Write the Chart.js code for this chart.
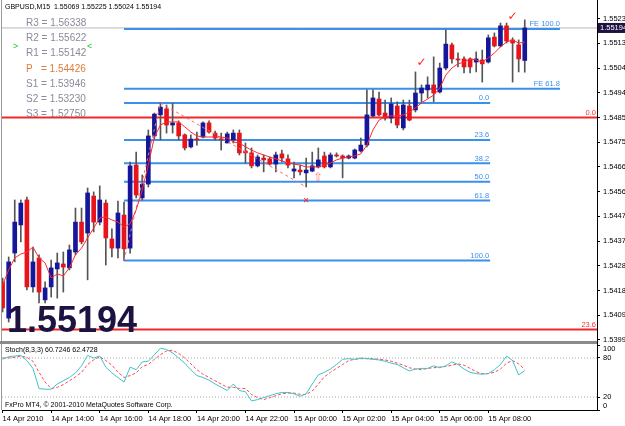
<!DOCTYPE html>
<html><head><meta charset="utf-8">
<script src="https://cdn.jsdelivr.net/npm/chart.js@4.4.0/dist/chart.umd.min.js"></script>
<style>
html,body{margin:0;padding:0;background:#fff;}
#wrap{position:relative;width:625px;height:426px;overflow:hidden;background:#fff;}
#main{position:absolute;left:0;top:0;}
#osc{position:absolute;left:0;top:341px;}
</style></head><body>
<div id="wrap">
<canvas id="main" width="625" height="343"></canvas>
<canvas id="osc" width="625" height="85"></canvas>
</div>
<script>
// ---------- DATA ----------
const opens = [1.54218,1.54079,1.54329,1.54437,1.54533,1.54199,1.54310,1.54149,1.54199,1.54268,
1.54287,1.54272,1.54333,1.54448,1.54406,1.54548,1.54448,1.54521,1.54383,1.54348,
1.54475,1.54348,1.54667,1.54541,1.54594,1.54779,1.54860,1.54883,1.54821,1.54829,
1.54783,1.54737,1.54767,1.54775,1.54829,1.54790,1.54767,1.54752,1.54764,1.54790,
1.54721,1.54714,1.54664,1.54694,1.54691,1.54671,1.54710,1.54691,1.54644,1.54648,
1.54637,1.54644,1.54660,1.54702,1.54660,1.54706,1.54702,1.54694,1.54694,1.54721,
1.54744,1.54856,1.54921,1.54867,1.54848,1.54894,1.54810,1.54894,1.54879,1.54944,
1.54956,1.54975,1.54948,1.55040,1.55129,1.55075,1.55075,1.55075,1.55063,1.55071,
1.55063,1.55159,1.55125,1.55202,1.55148,1.55129,1.55069];
const highs = [1.54233,1.54314,1.54533,1.54533,1.54544,1.54352,1.54322,1.54218,1.54302,1.54329,
1.54333,1.54360,1.54502,1.54502,1.54579,1.54564,1.54587,1.54533,1.54422,1.54529,
1.54525,1.54679,1.54717,1.54629,1.54802,1.54867,1.54906,1.54898,1.54904,1.54837,
1.54787,1.54783,1.54794,1.54833,1.54837,1.54798,1.54790,1.54794,1.54802,1.54802,
1.54752,1.54733,1.54706,1.54706,1.54698,1.54717,1.54725,1.54706,1.54679,1.54667,
1.54694,1.54717,1.54733,1.54717,1.54714,1.54714,1.54706,1.54706,1.54729,1.54771,
1.54956,1.54956,1.54948,1.54917,1.54925,1.54910,1.54917,1.54917,1.55025,1.54975,
1.55006,1.55083,1.55059,1.55186,1.55136,1.55098,1.55083,1.55079,1.55102,1.55109,
1.55167,1.55175,1.55213,1.55213,1.55156,1.55148,1.55225];
const lows = [1.54103,1.54064,1.54295,1.54372,1.54187,1.54179,1.54137,1.54137,1.54160,1.54156,
1.54179,1.54264,1.54322,1.54364,1.54226,1.54410,1.54437,1.54283,1.54314,1.54310,
1.54300,1.54329,1.54541,1.54533,1.54583,1.54767,1.54764,1.54790,1.54790,1.54764,
1.54725,1.54733,1.54744,1.54771,1.54790,1.54764,1.54725,1.54752,1.54752,1.54706,
1.54675,1.54656,1.54660,1.54641,1.54667,1.54641,1.54679,1.54656,1.54618,1.54629,
1.54583,1.54641,1.54656,1.54656,1.54656,1.54698,1.54618,1.54691,1.54691,1.54717,
1.54737,1.54852,1.54856,1.54840,1.54829,1.54810,1.54802,1.54837,1.54871,1.54910,
1.54925,1.54910,1.54944,1.55033,1.55059,1.55044,1.55021,1.55021,1.55025,1.54986,
1.55059,1.55121,1.55121,1.55136,1.54986,1.55025,1.55024];
const closes = [1.54118,1.54295,1.54448,1.54521,1.54199,1.54295,1.54179,1.54195,1.54272,1.54291,
1.54275,1.54341,1.54448,1.54372,1.54560,1.54448,1.54533,1.54387,1.54348,1.54483,
1.54345,1.54664,1.54552,1.54594,1.54779,1.54863,1.54890,1.54821,1.54829,1.54779,
1.54733,1.54767,1.54764,1.54829,1.54794,1.54771,1.54764,1.54787,1.54790,1.54714,
1.54714,1.54664,1.54698,1.54687,1.54671,1.54706,1.54694,1.54667,1.54652,1.54641,
1.54648,1.54664,1.54687,1.54660,1.54706,1.54702,1.54694,1.54702,1.54725,1.54744,
1.54860,1.54925,1.54860,1.54848,1.54902,1.54821,1.54898,1.54840,1.54944,1.54963,
1.54975,1.54944,1.55040,1.55132,1.55075,1.55071,1.55044,1.55044,1.55075,1.55056,
1.55156,1.55125,1.55202,1.55144,1.55136,1.55075,1.55194];
const maValues = [1.54206,1.54264,1.54310,1.54325,1.54333,1.54352,1.54310,1.54291,1.54233,1.54249,
1.54241,1.54272,1.54322,1.54348,1.54387,1.54425,1.54464,1.54468,1.54456,1.54448,
1.54429,1.54441,1.54495,1.54571,1.54667,1.54775,1.54821,1.54833,1.54833,1.54833,
1.54814,1.54794,1.54779,1.54775,1.54775,1.54775,1.54775,1.54771,1.54756,1.54752,
1.54737,1.54725,1.54714,1.54706,1.54698,1.54691,1.54683,1.54675,1.54671,1.54667,
1.54660,1.54660,1.54660,1.54667,1.54675,1.54687,1.54694,1.54698,1.54702,1.54710,
1.54744,1.54802,1.54840,1.54852,1.54856,1.54856,1.54860,1.54871,1.54887,1.54906,
1.54921,1.54936,1.54963,1.55013,1.55040,1.55056,1.55063,1.55075,1.55071,1.55063,
1.55079,1.55098,1.55121,1.55140,1.55148,1.55136,1.55140];
const stochK = [78,82,83,84,76,64,33,32,32,40,45,50,57,68,84,80,83,66,57,50,
43,66,62,74,75,85,95,93,88,80,72,62,53,50,46,40,35,30,40,30,
28,14,16,19,22,25,27,27,25,21,25,40,54,58,63,70,78,79,78,80,
79,78,77,75,72,70,65,60,63,64,64,68,65,68,74,70,63,58,56,55,
56,62,70,83,76,54,60.7246];
const stochD = [80,80,81,83,81,75,58,43,33,35,39,45,51,58,70,77,82,76,69,58,
50,53,57,67,70,78,85,91,92,87,80,71,62,55,50,45,40,35,35,33,
33,24,19,16,19,22,25,26,26,24,24,29,40,51,58,64,70,76,78,79,
79,79,78,77,75,72,69,65,63,62,64,65,66,67,69,71,69,64,59,56,
56,58,63,72,76,71,62.4728];
const timeTickIdx = [0,8,16,24,32,40,48,56,64,72,80];
const timeTickLabels = ['14 Apr 2010','14 Apr 14:00','14 Apr 16:00','14 Apr 18:00','14 Apr 20:00',
  '14 Apr 22:00','15 Apr 00:00','15 Apr 02:00','15 Apr 04:00','15 Apr 06:00','15 Apr 08:00'];
const priceTicks = [1.53995,1.54090,1.54185,1.54280,1.54375,1.54470,1.54565,1.54660,1.54755,1.54850,1.54945,1.55040,1.55135,1.55230];
const stochTicks = [0,20,80,100];
const stochLevels = [80,20];
const fibLabels = ['0.0','23.6','38.2','50.0','61.8','100.0'];
const fibPrices = [1.54906,1.54763,1.54674,1.54603,1.54531,1.54300];
const fibStartIdx = 20, fibEndIdx = 80.3;
const feLabels = ['FE 100.0','FE 61.8'];
const fePrices = [1.55190,1.54960];
const feEndIdx = 91.8;
const bigFibLabels = ['0.0','23.6'];
const bigFibPrices = [1.54850,1.54035];
const zigzagIdx = [20,26,50];
const zigzagPrices = [1.54300,1.54906,1.54583];
const markIdx = [69,84,50,52];
const markPrices = [1.55059,1.55236,1.54529,1.54618];
const markGlyphs = ['\u2713','\u2713','\u2715','\u21E7'];
const markColors = ['#ff2020','#ff2020','#ff2020','#ff8080'];
const pivotNames = ['R3','R2','R1','P','S1','S2','S3'];
const pivotValues = ['1.56338','1.55622','1.55142','1.54426','1.53946','1.53230','1.52750'];
const symbolTitle = 'GBPUSD,M15';
const stochTitle = 'Stoch(8,3,3)';
const copyright = 'FxPro MT4, \u00A9 2001-2010 MetaQuotes Software Corp.';

// ---------- STYLE ----------
const FONT = 'Liberation Sans';
Chart.defaults.font.family = FONT;
const BLUE = '#16169a', RED = '#e8141c', FIBC = '#3a90ea', REDLINE = '#f02828';
const X_MIN = -0.1, X_MAX = 97.9;
const N = closes.length;
const idx = closes.map((_, i) => i);
const lastOpen = opens[N-1], lastHigh = highs[N-1], lastLow = lows[N-1], lastClose = closes[N-1];

function hline(price, x0, x1, color, width, dash, order) {
  return {type:'line', data:[{x:x0,y:price},{x:x1,y:price}], borderColor:color, borderWidth:width,
    borderDash:dash||[], pointRadius:0, order:order};
}

const mainDatasets = [
  {type:'line', data: idx.map(i => ({x:i, y:maValues[i]})), borderColor:'#ff2a2a', borderWidth:1, pointRadius:0, order:0, tension:0},
  {type:'line', data: zigzagIdx.map((v,k) => ({x:v, y:zigzagPrices[k]})), borderColor:'#ff6a6a', borderWidth:1, borderDash:[3,3], pointRadius:0, order:0},
  {type:'bar', data: idx.map(i => ({x:i, y:[opens[i], closes[i]]})),
    backgroundColor: idx.map(i => closes[i] >= opens[i] ? BLUE : RED),
    barThickness:4, grouped:false, minBarLength:1, order:1},
  {type:'bar', data: idx.map(i => ({x:i, y:[lows[i], highs[i]]})), backgroundColor:'#555555',
    barThickness:1, grouped:false, order:2},
  hline(lastClose, X_MIN, X_MAX, '#b8b8b8', 1, [], 5),
];
fibPrices.forEach(p => mainDatasets.push(hline(p, fibStartIdx, fibEndIdx, FIBC, 2, [], 4)));
fePrices.forEach(p => mainDatasets.push(hline(p, fibStartIdx, feEndIdx, FIBC, 2, [], 4)));
bigFibPrices.forEach(p => mainDatasets.push(hline(p, X_MIN, X_MAX, REDLINE, 2, [], 4)));

const mainOverlay = {
  id:'mainOverlay',
  afterDraw(chart) {
    const {ctx, chartArea:a, scales:{x, y}} = chart;
    ctx.save();
    ctx.strokeStyle = '#9a9a9a'; ctx.lineWidth = 1;
    ctx.beginPath(); ctx.moveTo(1.5, 0); ctx.lineTo(1.5, 343); ctx.stroke();
    ctx.strokeStyle = '#000';
    ctx.beginPath(); ctx.moveTo(a.right + 0.5, 0); ctx.lineTo(a.right + 0.5, a.top); ctx.stroke();
    // header
    ctx.fillStyle = '#000'; ctx.font = '7px ' + FONT; ctx.textBaseline = 'middle'; ctx.textAlign = 'left';
    ctx.fillText(symbolTitle + '  ' + [lastOpen,lastHigh,lastLow,lastClose].map(v=>v.toFixed(5)).join(' '), 5, 7);
    // pivots
    ctx.font = '10px ' + FONT;
    pivotNames.forEach((n, k) => {
      ctx.fillStyle = n === 'P' ? '#e07b39' : '#8a8a9a';
      const label = n === 'P' ? 'P   = ' : n + ' = ';
      ctx.fillText(label + pivotValues[k], 26, 23.5 + 15.1 * k);
    });
    ctx.fillStyle = '#22cc22'; ctx.font = '9px ' + FONT;
    ctx.fillText('>', 13, 46.5); ctx.fillText('<', 87, 46.5);
    // fib labels
    ctx.font = '7.5px ' + FONT; ctx.textAlign = 'right'; ctx.textBaseline = 'bottom';
    ctx.fillStyle = FIBC;
    fibPrices.forEach((p, k) => ctx.fillText(fibLabels[k], x.getPixelForValue(fibEndIdx) - 1, y.getPixelForValue(p) - 1));
    fePrices.forEach((p, k) => ctx.fillText(feLabels[k], x.getPixelForValue(feEndIdx), y.getPixelForValue(p) - 1));
    ctx.fillStyle = '#ff3030';
    bigFibPrices.forEach((p, k) => ctx.fillText(bigFibLabels[k], a.right - 1, y.getPixelForValue(p) - 1));
    // marks
    ctx.textAlign = 'center'; ctx.textBaseline = 'middle';
    markIdx.forEach((m, k) => {
      ctx.fillStyle = markColors[k];
      ctx.font = (markGlyphs[k] === '\u2715' ? '8px ' : '12px ') + 'DejaVu Sans';
      ctx.fillText(markGlyphs[k], x.getPixelForValue(m), y.getPixelForValue(markPrices[k]));
    });
    // big price
    ctx.fillStyle = '#1e1240'; ctx.font = 'bold 36px ' + FONT; ctx.textAlign = 'left'; ctx.textBaseline = 'alphabetic';
    ctx.fillText(lastClose.toFixed(5), 7, 332);
    // price box on axis
    const py = y.getPixelForValue(lastClose);
    ctx.fillStyle = '#1e1240'; ctx.fillRect(a.right + 1, py - 5, 27, 10);
    ctx.fillStyle = '#fff'; ctx.font = '7.5px ' + FONT; ctx.textAlign = 'left'; ctx.textBaseline = 'middle';
    ctx.fillText(lastClose.toFixed(5), a.right + 3, py);
    ctx.restore();
  }
};

function fixY(s) { s.width = 28; s.paddingTop = 0; s.paddingBottom = 0; }

new Chart(document.getElementById('main'), {
  type:'bar',
  data:{datasets: mainDatasets},
  options:{
    responsive:false, animation:false, events:[],
    layout:{padding:{left:2, top:10, right:0, bottom:2}},
    plugins:{legend:{display:false}, tooltip:{enabled:false}},
    scales:{
      x:{type:'linear', min:X_MIN, max:X_MAX, display:false, offset:false},
      y:{position:'right', min:1.53991, max:1.55263,
        afterBuildTicks: s => { s.ticks = priceTicks.map(v => ({value:v})); },
        afterFit: fixY,
        ticks:{callback: v => Number(v).toFixed(5), font:{size:7.5, family:FONT}, color:'#000', padding:3, autoSkip:false},
        grid:{drawOnChartArea:false, tickLength:3, color:'#000'},
        border:{color:'#000'}}
    }
  },
  plugins:[mainOverlay]
});

const oscOverlay = {
  id:'oscOverlay',
  afterDraw(chart) {
    const {ctx, chartArea:a, scales:{y}} = chart;
    ctx.save();
    ctx.fillStyle = '#8a8a8a'; ctx.fillRect(0, 0, a.right, 3);
    ctx.strokeStyle = '#9a9a9a'; ctx.lineWidth = 1;
    ctx.beginPath(); ctx.moveTo(1.5, 3); ctx.lineTo(1.5, a.bottom); ctx.stroke();
    ctx.strokeStyle = '#000';
    ctx.beginPath(); ctx.moveTo(a.right + 0.5, 0); ctx.lineTo(a.right + 0.5, a.top); ctx.stroke();
    ctx.fillStyle = '#000'; ctx.font = '7px ' + FONT; ctx.textBaseline = 'middle'; ctx.textAlign = 'left';
    ctx.fillText(stochTitle + ' ' + stochK[N-1].toFixed(4) + ' ' + stochD[N-1].toFixed(4), 5, 9);
    ctx.fillText(copyright, 5, 64);
    // edge labels of the oscillator scale, kept inside the pane
    ctx.font = '7.5px ' + FONT;
    [stochTicks[0], stochTicks[stochTicks.length - 1]].forEach(v => {
      const py = Math.min(Math.max(y.getPixelForValue(v), a.top + 4), a.bottom - 4);
      ctx.fillText(String(v), a.right + 6, py);
    });
    ctx.restore();
  }
};

const oscDatasets = [
  {data: idx.map(i => ({x:i, y:stochK[i]})), borderColor:'#3cc4cc', borderWidth:1, pointRadius:0, order:0},
  {data: idx.map(i => ({x:i, y:stochD[i]})), borderColor:'#ff4a4a', borderWidth:1, borderDash:[3,2], pointRadius:0, order:1},
];
stochLevels.forEach(l => oscDatasets.push({data:[{x:X_MIN,y:l},{x:X_MAX,y:l}], borderColor:'#a8a8a8', borderWidth:1, borderDash:[1,2], pointRadius:0, order:2}));

new Chart(document.getElementById('osc'), {
  type:'line',
  data:{datasets: oscDatasets},
  options:{
    responsive:false, animation:false, events:[],
    layout:{padding:{left:2, top:4, right:0, bottom:0}},
    plugins:{legend:{display:false}, tooltip:{enabled:false}},
    scales:{
      x:{type:'linear', min:X_MIN, max:X_MAX,
        afterBuildTicks: s => { s.ticks = timeTickIdx.map(v => ({value:v})); },
        afterFit: s => { s.height = 16; s.paddingLeft = 0; s.paddingRight = 0; },
        ticks:{align:'start', autoSkip:false, maxRotation:0, padding:1,
          callback:(v, i) => timeTickLabels[i], font:{size:7.5, family:FONT}, color:'#000'},
        grid:{drawOnChartArea:false, tickLength:3, color:'#000'},
        border:{color:'#000'}},
      y:{position:'right', min:0, max:100,
        afterBuildTicks: s => { s.ticks = stochTicks.map(v => ({value:v})); },
        afterFit: fixY,
        ticks:{font:{size:7.5, family:FONT}, color:'#000', padding:3, autoSkip:false,
          callback: v => (v === stochTicks[0] || v === stochTicks[stochTicks.length - 1]) ? '' : String(v)},
        grid:{drawOnChartArea:false, tickLength:3, color:'#000'},
        border:{color:'#000'}}
    }
  },
  plugins:[oscOverlay]
});
</script>
</body></html>
